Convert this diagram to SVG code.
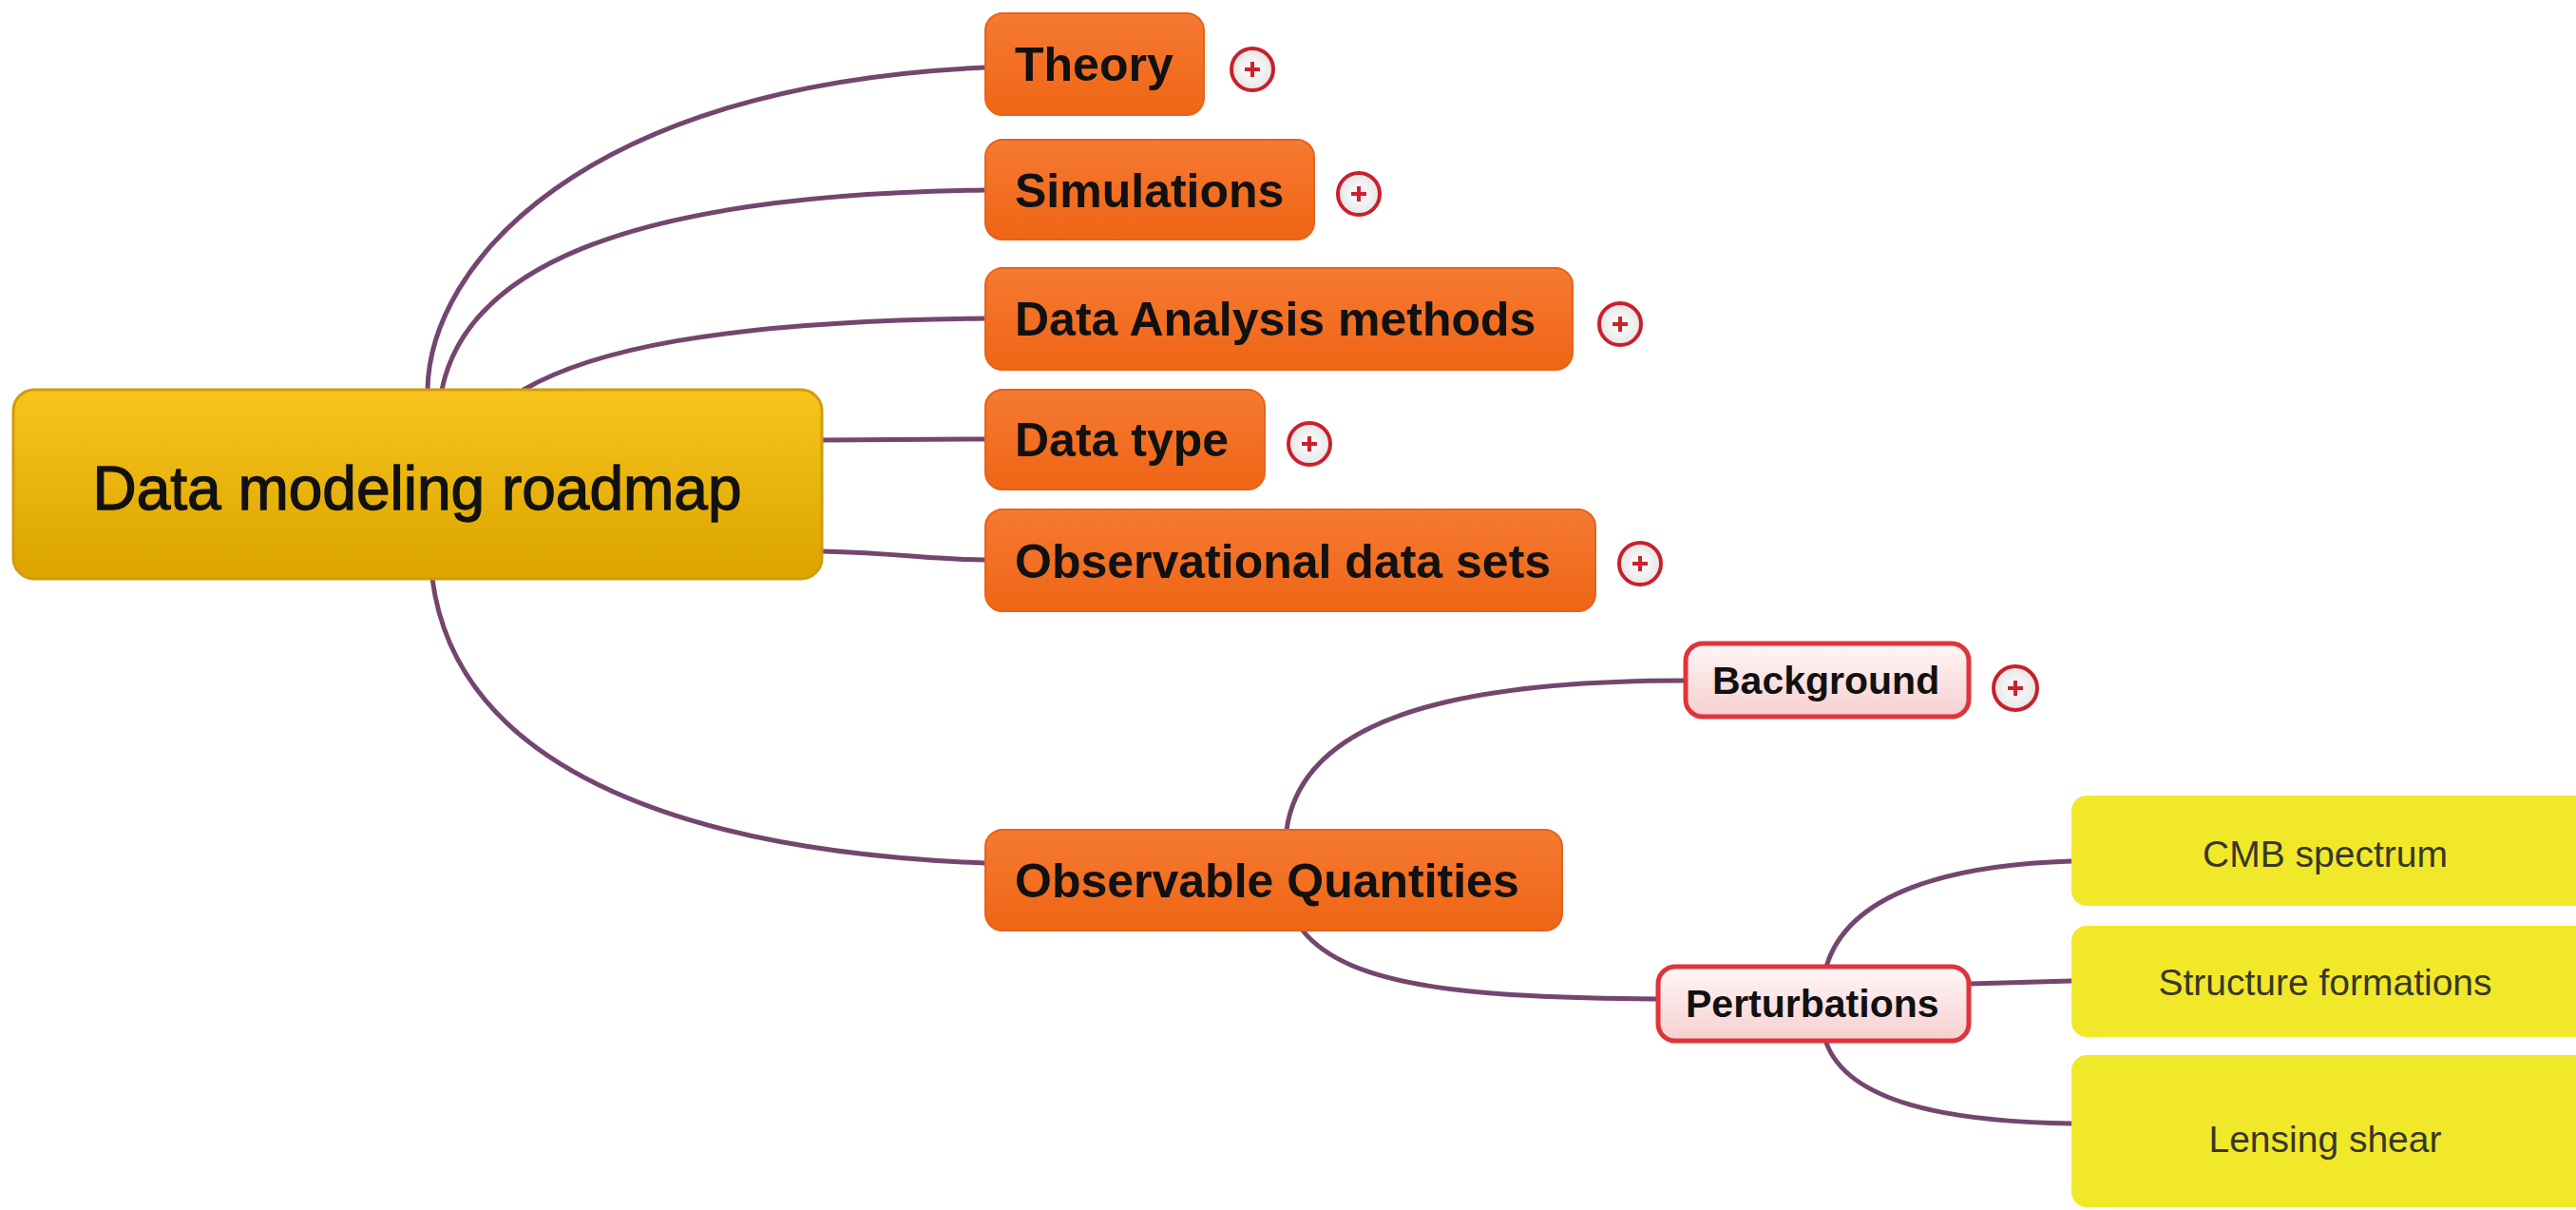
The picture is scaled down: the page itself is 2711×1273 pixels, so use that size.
<svg xmlns="http://www.w3.org/2000/svg" width="2711" height="1273" viewBox="0 0 2711 1273">
<defs>
<linearGradient id="gRoot" x1="0" y1="0" x2="0" y2="1"><stop offset="0" stop-color="#f8c41c"/><stop offset="1" stop-color="#dba400"/></linearGradient>
<linearGradient id="gOr" x1="0" y1="0" x2="0" y2="1"><stop offset="0" stop-color="#f57a32"/><stop offset="1" stop-color="#ef6515"/></linearGradient>
<linearGradient id="gPk" x1="0" y1="0" x2="0" y2="1"><stop offset="0" stop-color="#fff6f6"/><stop offset="1" stop-color="#f6cfcf"/></linearGradient>
<radialGradient id="gPl" cx="0.5" cy="0.5" r="0.5"><stop offset="0" stop-color="#ffffff"/><stop offset="1" stop-color="#e6e6e6"/></radialGradient>
<style>
.root{fill:url(#gRoot);stroke:#cf9d0c;stroke-width:3}
.or{fill:url(#gOr);stroke:#e6631a;stroke-width:2}
.pk{fill:url(#gPk);stroke:#e0343a;stroke-width:5}
.ye{fill:#f1e82a}
.t1{font-family:"Liberation Sans",Arial,sans-serif;font-size:64px;fill:#111;stroke:#111;stroke-width:1.3}
.t2{font-family:"Liberation Sans",Arial,sans-serif;font-size:50px;font-weight:bold;fill:#111}
.t3{font-family:"Liberation Sans",Arial,sans-serif;font-size:41px;font-weight:bold;fill:#111}
.t4{font-family:"Liberation Sans",Arial,sans-serif;font-size:39px;fill:#37372a;text-anchor:middle}
.pc{fill:url(#gPl);stroke:#c8202c;stroke-width:4}
.pp{stroke:#d0202a;stroke-width:4;fill:none}
.cn{fill:none;stroke:#74466f;stroke-width:5;stroke-linecap:round}
</style>
</defs>
<rect width="2711" height="1273" fill="#ffffff"/>
<g id="connectors">
<path class="cn" d="M450,410 C452,280 610,90 1037,71"/>
<path class="cn" d="M465,410 C490,290 640,205 1037,200"/>
<path class="cn" d="M551,410 C620,370 750,338 1037,335"/>
<path class="cn" d="M865,463 L1037,462"/>
<path class="cn" d="M865,580 C950,582 980,589 1037,589"/>
<path class="cn" d="M455,609 C480,800 700,895 1037,908"/>
<path class="cn" d="M1354,873 C1370,760 1520,716 1774,716"/>
<path class="cn" d="M1371,979 C1420,1040 1550,1049 1743,1051"/>
<path class="cn" d="M1922,1017 C1945,940 2050,910 2180,906"/>
<path class="cn" d="M2073,1035 L2180,1032"/>
<path class="cn" d="M1922,1097 C1945,1160 2050,1180 2180,1182"/>
</g>
<g id="root">
<rect class="root" x="14" y="410" width="851" height="199" rx="22"/>
<text class="t1" x="439" y="536" text-anchor="middle">Data modeling roadmap</text>
</g>
<g id="theory">
<rect class="or" x="1037" y="14" width="230" height="107" rx="18"/>
<text class="t2" x="1068" y="85">Theory</text>
<circle class="pc" cx="1318" cy="73" r="22"/><path class="pp" d="M1310,73 H1326 M1318,65 V81"/>
</g>
<g id="simulations">
<rect class="or" x="1037" y="147" width="346" height="105" rx="18"/>
<text class="t2" x="1068" y="218">Simulations</text>
<circle class="pc" cx="1430" cy="204" r="22"/><path class="pp" d="M1422,204 H1438 M1430,196 V212"/>
</g>
<g id="data-analysis">
<rect class="or" x="1037" y="282" width="618" height="107" rx="18"/>
<text class="t2" x="1068" y="353">Data Analysis methods</text>
<circle class="pc" cx="1705" cy="341" r="22"/><path class="pp" d="M1697,341 H1713 M1705,333 V349"/>
</g>
<g id="data-type">
<rect class="or" x="1037" y="410" width="294" height="105" rx="18"/>
<text class="t2" x="1068" y="480">Data type</text>
<circle class="pc" cx="1378" cy="467" r="22"/><path class="pp" d="M1370,467 H1386 M1378,459 V475"/>
</g>
<g id="observational">
<rect class="or" x="1037" y="536" width="642" height="107" rx="18"/>
<text class="t2" x="1068" y="608">Observational data sets</text>
<circle class="pc" cx="1726" cy="593" r="22"/><path class="pp" d="M1718,593 H1734 M1726,585 V601"/>
</g>
<g id="observable">
<rect class="or" x="1037" y="873" width="607" height="106" rx="18"/>
<text class="t2" x="1068" y="944">Observable Quantities</text>
</g>
<g id="background">
<rect class="pk" x="1774" y="677" width="298" height="77" rx="18"/>
<text class="t3" x="1802" y="730">Background</text>
<circle class="pc" cx="2121" cy="724" r="23"/><path class="pp" d="M2113,724 H2129 M2121,716 V732"/>
</g>
<g id="perturbations">
<rect class="pk" x="1745" y="1017" width="327" height="78" rx="18"/>
<text class="t3" x="1774" y="1070">Perturbations</text>
</g>
<g id="cmb">
<rect class="ye" x="2180" y="837" width="545" height="116" rx="16"/>
<text class="t4" x="2447" y="912">CMB spectrum</text>
</g>
<g id="structure">
<rect class="ye" x="2180" y="974" width="545" height="117" rx="16"/>
<text class="t4" x="2447" y="1047">Structure formations</text>
</g>
<g id="lensing">
<rect class="ye" x="2180" y="1110" width="545" height="160" rx="16"/>
<text class="t4" x="2447" y="1212">Lensing shear</text>
</g>
</svg>
